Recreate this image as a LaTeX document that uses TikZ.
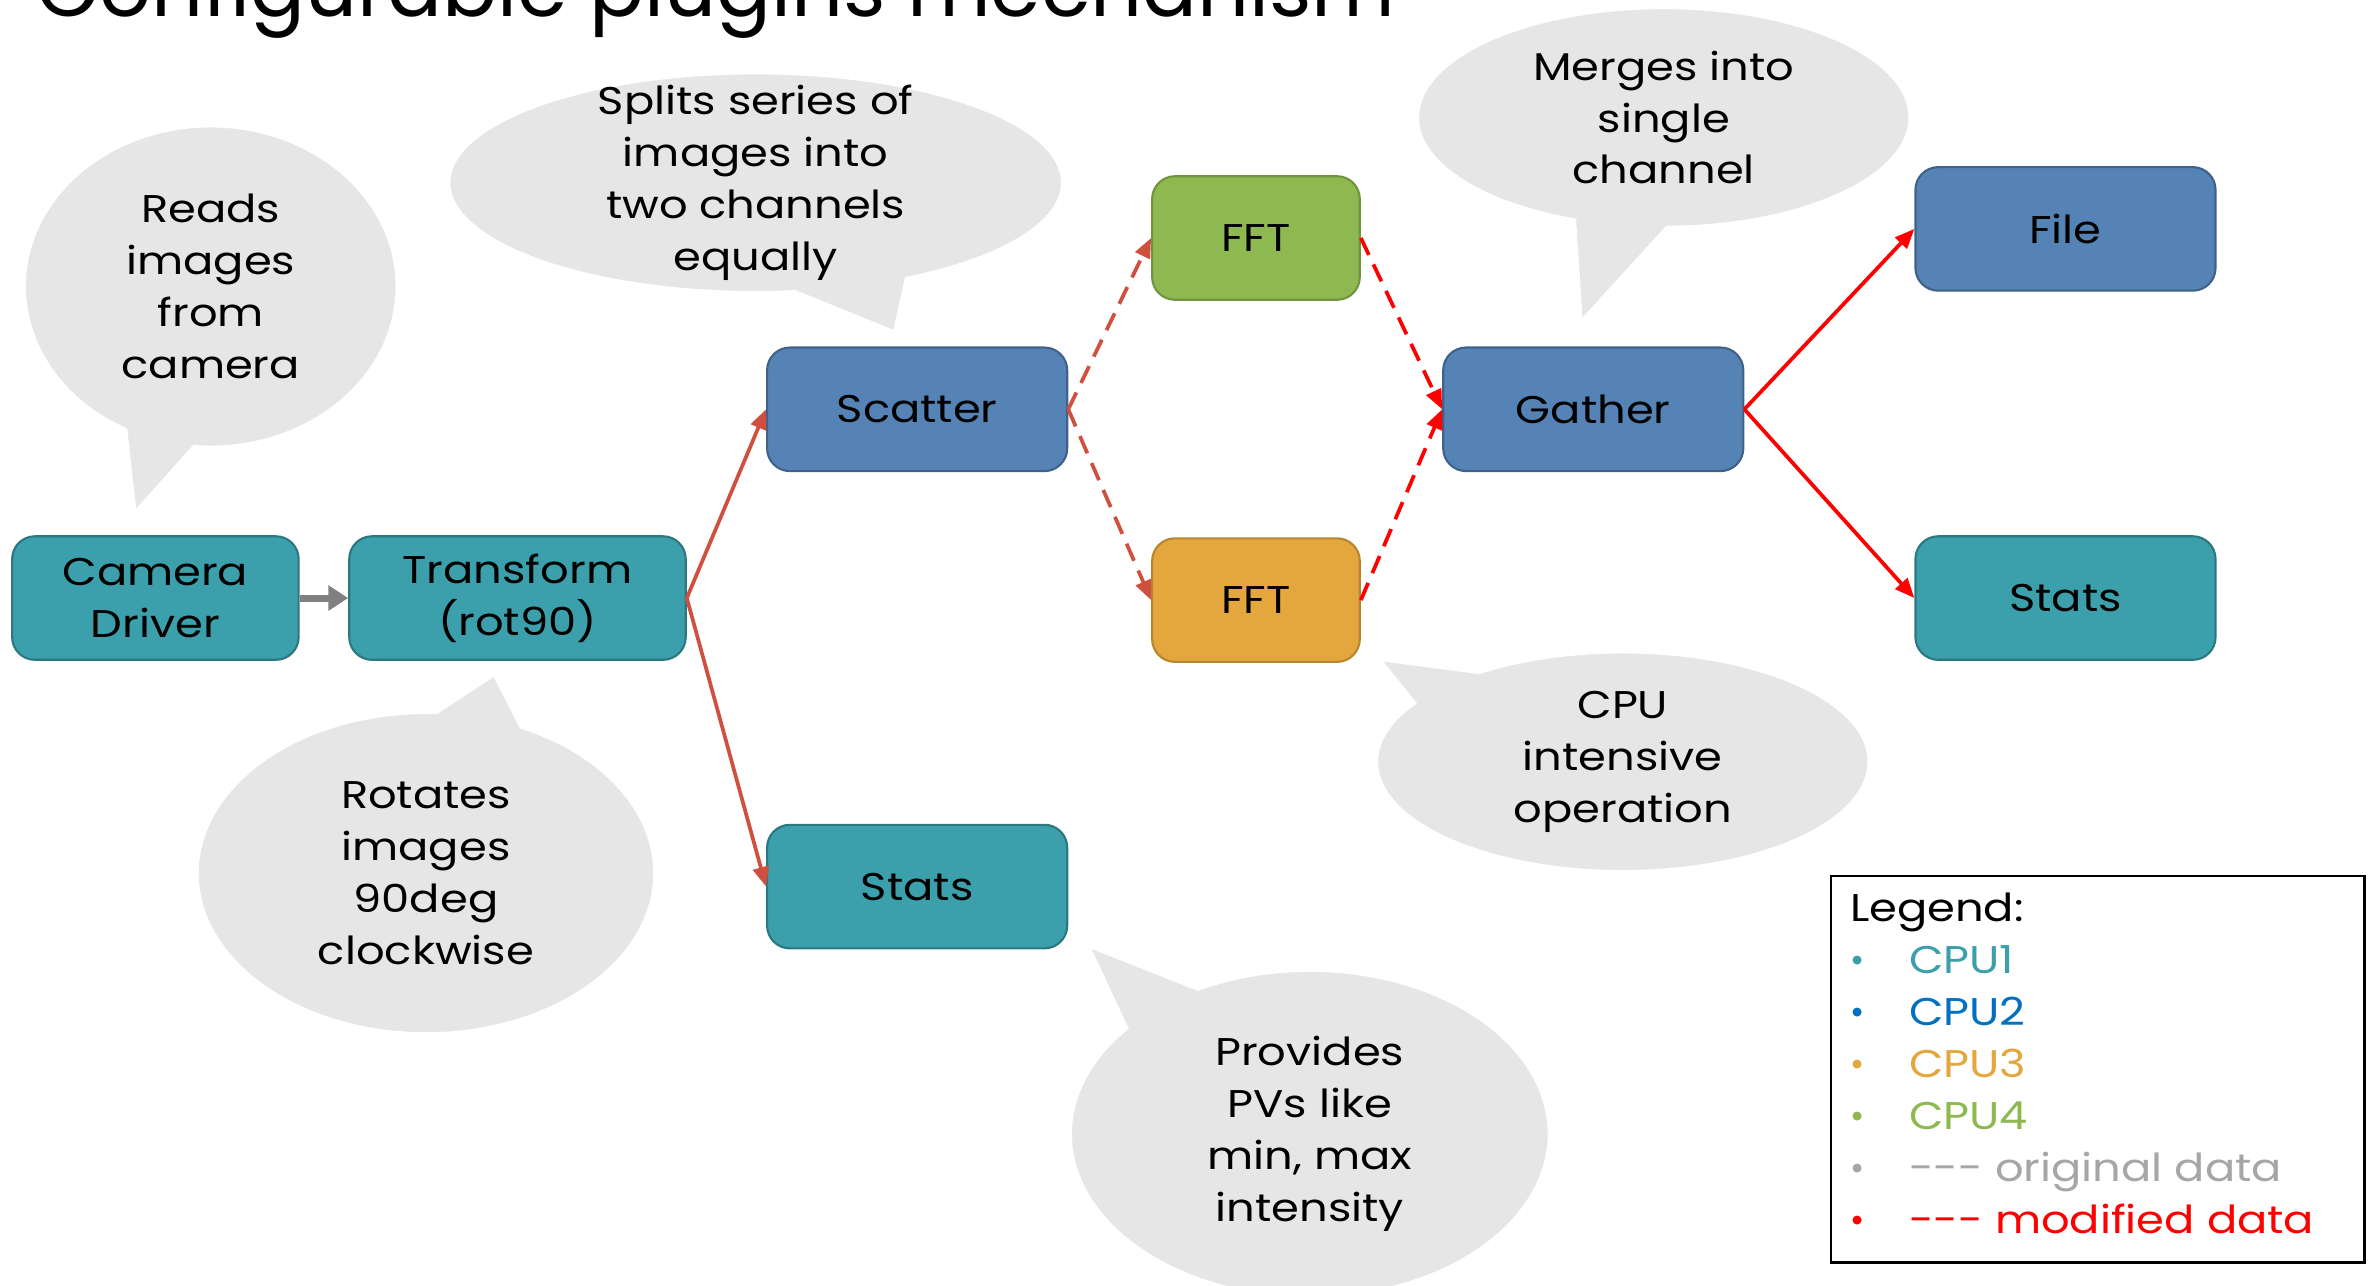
\documentclass[tikz,border=0pt]{standalone}
\usepackage{fontspec}
\setmainfont{Poppins}[FakeStretch=1.16]
\newfontfamily\titlefamily{Poppins}
\usepackage{tikz}
\definecolor{cpuone}{HTML}{3BA0AB}
\definecolor{cputwo}{HTML}{5683B5}
\definecolor{cputhree}{HTML}{E3A73D}
\definecolor{cpufour}{HTML}{8DB950}
\definecolor{legendblue}{HTML}{0070C0}
\definecolor{legendgray}{HTML}{A6A6A6}
\definecolor{splitred}{HTML}{D0503F}
\definecolor{notegray}{HTML}{E6E6E6}
\tikzset{
  box_font/.style = {font=\fontsize{14.5}{19.5}\selectfont},
  title_font/.style = {font=\titlefamily\fontsize{30.5}{36}\selectfont},
  wide/.style = {minimum width=3.96cm},
  narrow/.style = {minimum width=2.74cm}
}
\tikzset{
  plugin/.style = {box_font, align=center, draw, line width=0.8pt, rounded corners=0.3cm, minimum height=1.63cm, inner sep=2pt},
  cpu_one/.style = {plugin, fill=cpuone, draw=cpuone!75!black},
  cpu_two/.style = {plugin, fill=cputwo, draw=cputwo!75!black},
  cpu_three/.style = {plugin, fill=cputhree, draw=cputhree!80!black},
  cpu_four/.style = {plugin, fill=cpufour, draw=cpufour!80!black},
  note/.style = {ellipse callout, callout pointer arc=22, fill=notegray, draw=white, line width=1.2pt, inner sep=0},
  note_text/.style = {box_font, align=center, inner sep=0},
  legend_box/.style = {draw, line width=0.9pt, inner sep=0},
  legend_text/.style = {box_font, inner sep=0, anchor=base west}
}
\tikzset{
  orig_flow/.style = {->, draw=gray, line width=2.6pt, >={Triangle[length=0.26cm, width=0.32cm]}},
  split_flow/.style = {->, draw=splitred, line width=1.4pt},
  merge_flow/.style = {->, draw=red, line width=1.4pt},
  dashed_flow/.style = {dash pattern=on 7pt off 4pt}
}
\usetikzlibrary{shapes.callouts, arrows.meta, positioning}

\begin{document}
\begin{tikzpicture}[x=0.02cm, y=-0.02cm, node distance=0,
            >={Triangle[length=0.26cm, width=0.21cm]}
            ]{
        \path[use as bounding box, clip] (0,0) rectangle (1568,848);

        % Title
        \node[title_font, anchor=base west, inner sep=0] (title) at (24,11) {Configurable plugins mechanism};

        % Notes
        \node[note, minimum width=4.92cm, minimum height=4.24cm, callout absolute pointer={(89,338)},
            label={[note_text]center:{Reads\\images\\from\\camera}}] (cam_note) at (139,189) {};
        \node[note, minimum width=8.1cm, minimum height=2.9cm, callout absolute pointer={(590,219)},
            label={[note_text]center:{Splits series of\\images into\\two channels\\equally}}] (scatter_note) at (498.5,120.5) {};
        \node[note, minimum width=6.5cm, minimum height=2.9cm, callout absolute pointer={(1043,212)},
            label={[note_text]center:{Merges into\\single\\channel}}] (gather_note) at (1097.5,77.5) {};
        \node[note, minimum width=6.04cm, minimum height=4.24cm, callout absolute pointer={(326,445)},
            label={[note_text]center:{Rotates\\images\\90deg\\clockwise}}] (trans_note) at (281,576) {};
        \node[note, minimum width=6.32cm, minimum height=4.32cm, callout absolute pointer={(718,624)},
            label={[note_text]center:{Provides\\PVs like\\min, max\\intensity}}] (stats_note) at (864,748) {};
        \node[note, minimum width=6.5cm, minimum height=2.9cm, callout absolute pointer={(910,435)},
            label={[note_text]center:{CPU\\intensive\\operation}}] (fft_note) at (1070.5,502.5) {};

        % Plugins
        \node[cpu_one, minimum width=3.78cm] (cam) at (102.5,394.5) {Camera\\Driver};
        \node[cpu_one, minimum width=4.44cm, right=0.64cm of cam] (trans) {Transform\\(rot90)};
        \node[cpu_two, wide] (scatter) at (605,270) {Scatter};
        \node[cpu_one, wide, below=4.64cm of scatter] (stats_a) {Stats};
        \node[cpu_four, narrow] (fft_a) at (828.5,157) {FFT};
        \node[cpu_three, narrow, below=3.12cm of fft_a] (fft_b) {FFT};
        \node[cpu_two, wide] (gather) at (1051,270) {Gather};
        \node[cpu_two, wide] (file) at (1362.5,151) {File};
        \node[cpu_one, wide] (stats_b) at (1362.5,394.5) {Stats};

        % Arrows
        \draw[orig_flow] (cam) -- (trans);
        \draw[split_flow] (trans.east) -- (scatter.west);
        \draw[split_flow] (trans.east) -- (stats_a.west);
        \draw[split_flow, dashed_flow] (scatter.east) -- (fft_a.west);
        \draw[split_flow, dashed_flow] (scatter.east) -- (fft_b.west);
        \draw[merge_flow, dashed_flow] (fft_a.east) -- (gather.west);
        \draw[merge_flow, dashed_flow] (fft_b.east) -- (gather.west);
        \draw[merge_flow] (gather.east) -- (file.west);
        \draw[merge_flow] (gather.east) -- (stats_b.west);

        % Legend
        \node[legend_box, anchor=north west, minimum width=7.04cm, minimum height=5.1cm] (legend) at (1207,577) {};
        \node[legend_text] (legend_title) at (1220,608) {Legend:};
        \foreach \entry/\col [count=\row] in {CPU1/cpuone, CPU2/legendblue, CPU3/cputhree, CPU4/cpufour,
                {-{}-{}- original data}/legendgray, {-{}-{}- modified data}/red}{
            \fill[\col] (1225,{599+34.3*\row}) circle (1.7pt);
            \node[legend_text, text=\col] (legend_\row) at (1259,{608+34.3*\row}) {\entry};
        }
        }
    \end{tikzpicture}
\end{document}
